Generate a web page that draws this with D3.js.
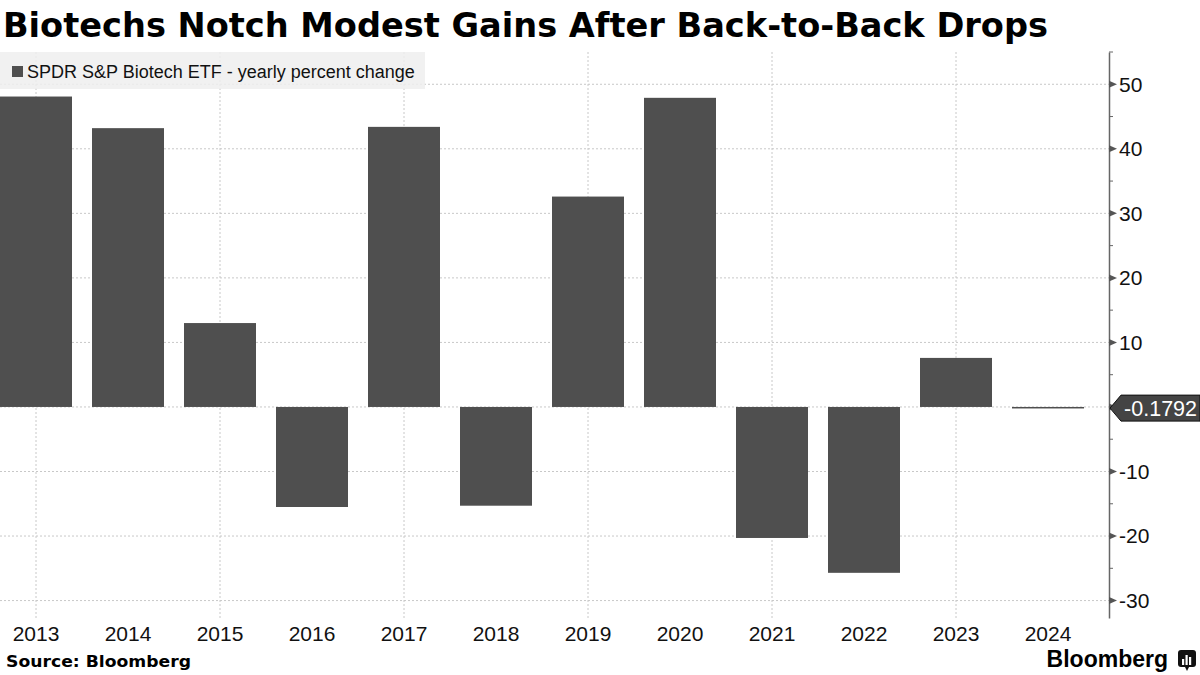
<!DOCTYPE html>
<html>
<head>
<meta charset="utf-8">
<script src="https://cdn.jsdelivr.net/npm/d3@7"></script>
<style>
  body { margin: 0; background: #fff; }
  svg { display: block; }
</style>
</head>
<body>
<div id="chart"></div>
<script>
// data
var years = ["2013", "2014", "2015", "2016", "2017", "2018", "2019", "2020", "2021", "2022", "2023", "2024"];
var yearlyChange = [48.1, 43.2, 13.0, -15.5, 43.4, -15.3, 32.6, 47.9, -20.3, -25.7, 7.6, -0.1792];
var majorTicks = [50, 40, 30, 20, 10, 0, -10, -20, -30];
var minorTicks = [55, 45, 35, 25, 15, 5, -5, -15, -25];
var gridYears = ["2013", "2015", "2017", "2019", "2021", "2023"];
var lastLabel = "-0.1792";

var svgWidth = 1200, svgHeight = 675;
var barColor = "#4f4f4f";

var svg = d3.select("#chart")
    .append("svg")
    .attr("width", svgWidth)
    .attr("height", svgHeight);

// scales
var xScale = d3.scaleBand()
    .domain(years)
    .range([0, 1084])
    .paddingInner(20 / 92)
    .paddingOuter(0);

var yScale = d3.scaleLinear()
    .domain([-32.7, 55])
    .range([618, 52]);

var axisX = 1109;

// gridlines
var grid = svg.append("g");
grid.selectAll("line.h")
    .data(majorTicks)
    .enter()
    .append("line")
    .attr("x1", 0)
    .attr("x2", axisX)
    .attr("y1", d => yScale(d))
    .attr("y2", d => yScale(d))
    .attr("stroke", "#c8c8c8")
    .attr("stroke-dasharray", "2,2");

grid.selectAll("line.v")
    .data(gridYears)
    .enter()
    .append("line")
    .attr("x1", d => xScale(d) + xScale.bandwidth() / 2)
    .attr("x2", d => xScale(d) + xScale.bandwidth() / 2)
    .attr("y1", yScale.range()[1])
    .attr("y2", yScale.range()[0])
    .attr("stroke", "#c8c8c8")
    .attr("stroke-dasharray", "2,2");

// legend box
var legend = svg.append("g");
legend.append("rect")
    .attr("x", 0).attr("y", 52)
    .attr("width", 425).attr("height", 37)
    .attr("fill", "#efefef")
    .attr("opacity", 0.85);
legend.append("rect")
    .attr("x", 12).attr("y", 66)
    .attr("width", 11).attr("height", 11)
    .attr("fill", barColor);
legend.append("text")
    .attr("x", 27).attr("y", 78)
    .attr("font-family", "Liberation Sans, Arial, sans-serif")
    .attr("font-size", 18)
    .attr("fill", "#111")
    .text("SPDR S&P Biotech ETF - yearly percent change");

// bars
svg.append("g").selectAll("rect")
    .data(years)
    .enter()
    .append("rect")
    .attr("x", d => xScale(d))
    .attr("width", xScale.bandwidth())
    .attr("y", (d, i) => yScale(Math.max(0, yearlyChange[i])))
    .attr("height", (d, i) => Math.max(1.5, Math.abs(yScale(yearlyChange[i]) - yScale(0))))
    .attr("fill", barColor);

// x labels
var xAxis = d3.axisBottom(xScale).tickSize(0).tickPadding(0);
var xg = svg.append("g")
    .attr("transform", "translate(0,626)")
    .call(xAxis);
xg.select(".domain").remove();
xg.selectAll("text")
    .attr("dy", "0.71em")
    .attr("font-family", "Liberation Sans, Arial, sans-serif")
    .attr("font-size", 21)
    .attr("fill", "#111");

// right y axis
var yAxis = d3.axisRight(yScale).tickValues(majorTicks).tickSize(0).tickPadding(10)
    .tickFormat(d => d === 0 ? "" : d);
var yg = svg.append("g")
    .attr("transform", `translate(${axisX},0)`)
    .call(yAxis);
yg.select(".domain")
    .attr("stroke", "#666")
    .attr("stroke-width", 1.5);
yg.selectAll("text")
    .attr("font-family", "Liberation Sans, Arial, sans-serif")
    .attr("font-size", 21)
    .attr("fill", "#111");

// triangle markers at major ticks
yg.selectAll("path.mark")
    .data(majorTicks)
    .enter()
    .append("path")
    .attr("class", "mark")
    .attr("d", d => `M0,${yScale(d) - 3.5}L8,${yScale(d)}L0,${yScale(d) + 3.5}Z`)
    .attr("fill", "#555");

// minor ticks
yg.selectAll("line.minor")
    .data(minorTicks)
    .enter()
    .append("line")
    .attr("x1", 0).attr("x2", 4)
    .attr("y1", d => yScale(d)).attr("y2", d => yScale(d))
    .attr("stroke", "#666");

// last value callout
var lastY = yScale(yearlyChange[yearlyChange.length - 1]);
var callout = svg.append("g");
callout.append("path")
    .attr("d", `M${axisX + 1},${lastY}L${axisX + 12},${lastY - 13}L1200,${lastY - 13}L1200,${lastY + 13}L${axisX + 12},${lastY + 13}Z`)
    .attr("fill", "#444")
    .attr("stroke", "#111")
    .attr("stroke-width", 1);
callout.append("text")
    .attr("x", 1197).attr("y", lastY)
    .attr("dy", "0.36em")
    .attr("text-anchor", "end")
    .attr("font-family", "Liberation Sans, Arial, sans-serif")
    .attr("font-size", 21.5)
    .attr("fill", "#fff")
    .text(lastLabel);

// title
svg.append("text")
    .attr("x", 3).attr("y", 37)
    .attr("font-family", "DejaVu Sans, sans-serif")
    .attr("font-weight", "bold")
    .attr("font-size", 34)
    .attr("textLength", 1045)
    .attr("lengthAdjust", "spacingAndGlyphs")
    .attr("fill", "#000")
    .text("Biotechs Notch Modest Gains After Back-to-Back Drops");

// source
svg.append("text")
    .attr("x", 6).attr("y", 667)
    .attr("font-family", "DejaVu Sans, sans-serif")
    .attr("font-weight", "bold")
    .attr("font-size", 16.5)
    .attr("textLength", 185)
    .attr("lengthAdjust", "spacingAndGlyphs")
    .attr("fill", "#000")
    .text("Source: Bloomberg");

// Bloomberg logo
svg.append("text")
    .attr("x", 1168).attr("y", 667)
    .attr("text-anchor", "end")
    .attr("font-family", "Liberation Sans, Arial, sans-serif")
    .attr("font-weight", "bold")
    .attr("font-size", 23)
    .attr("fill", "#000")
    .text("Bloomberg");

var logo = svg.append("g").attr("transform", "translate(1178,650)");
logo.append("rect")
    .attr("width", 18).attr("height", 17).attr("rx", 3)
    .attr("fill", "#111");
logo.append("path")
    .attr("d", "M7,17L9,21L11,17Z")
    .attr("fill", "#111");
var logoBars = [[4, 9, 6], [7.5, 5, 10], [11, 7, 8]];
logo.selectAll("rect.b")
    .data(logoBars)
    .enter()
    .append("rect")
    .attr("x", d => d[0]).attr("y", d => d[1])
    .attr("width", 2.2).attr("height", d => d[2])
    .attr("fill", "#fff");
</script>
</body>
</html>
